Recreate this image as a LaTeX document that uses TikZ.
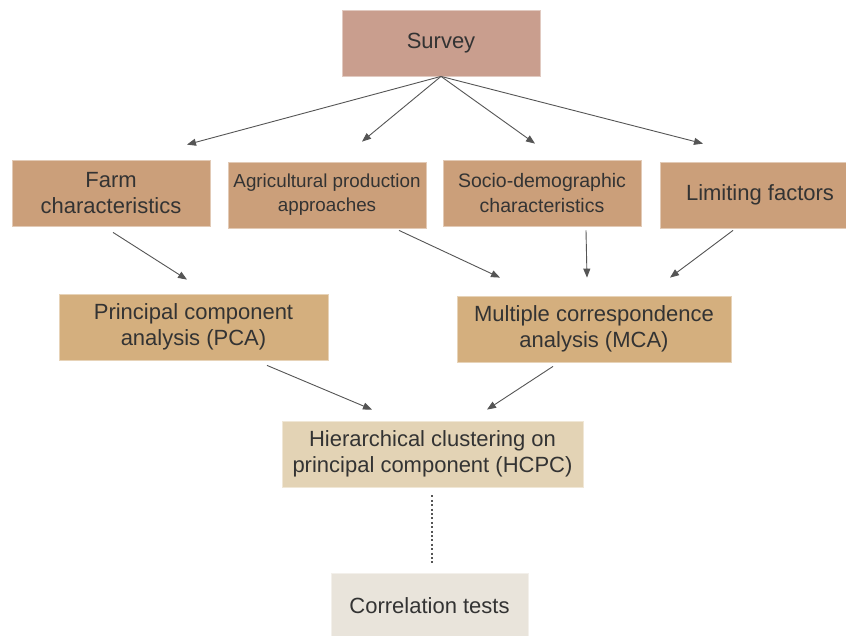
\documentclass[tikz,border=0pt]{standalone}
\usepackage{fontspec}
\setmainfont{Liberation Sans}
\usetikzlibrary{arrows.meta}
\definecolor{cSurvey}{HTML}{C99E8E}
\definecolor{cRow}{HTML}{CB9F7A}
\definecolor{cMid}{HTML}{D4AF7E}
\definecolor{cHcpc}{HTML}{E3D3B5}
\definecolor{cCorr}{HTML}{E9E4DB}
\definecolor{cText}{HTML}{333333}
\definecolor{cLine}{HTML}{555555}
\begin{document}
\begin{tikzpicture}[x=1pt,y=-1pt,
  box/.style={fill=#1, draw=#1!55!white, line width=0.8pt, align=center,
    text=cText, inner sep=0pt, minimum height=66pt,
    font=\fontsize{22}{26}\selectfont},
  arr/.style={draw=cLine, line width=0.9pt, -{Triangle[length=9pt,width=7pt]}},
  dots/.style={draw=cLine, line width=2.2pt, dash pattern=on 2pt off 2.4pt}
]
\clip (0,0) rectangle (846,635);
\fill[white] (0,0) rectangle (846,635);

\node[box=cSurvey, minimum width=198pt] (survey) at (441,43) {Survey};

\node[box=cRow, minimum width=198pt] (farm) at (111,193) {Farm\\characteristics};
\node[box=cRow, minimum width=198pt, font=\fontsize{18.8}{24}\selectfont] (agri) at (327,195) {Agricultural production\\approaches};
\node[box=cRow, minimum width=198pt, font=\fontsize{19.5}{25}\selectfont] (socio) at (542,193) {Socio-demographic\\characteristics};
\node[box=cRow, minimum width=200pt] (limit) at (760,195) {Limiting factors};

\node[box=cMid, minimum width=269pt] (pca) at (193.5,327) {Principal component\\analysis (PCA)};
\node[box=cMid, minimum width=274pt] (mca) at (594,329) {Multiple correspondence\\analysis (MCA)};

\node[box=cHcpc, minimum width=301pt] (hcpc) at (432.5,454) {Hierarchical clustering on\\principal component (HCPC)};

\node[box=cCorr, minimum width=197pt] (corr) at (429.5,606) {Correlation tests};

% Survey to row
\draw[arr] (survey.south) -- ([xshift=76pt,yshift=15pt]farm.north);
\draw[arr] (survey.south) -- ([xshift=35pt,yshift=20pt]agri.north);
\draw[arr] (survey.south) -- ([xshift=-7pt,yshift=16pt]socio.north);
\draw[arr] (survey.south) -- ([xshift=-57pt,yshift=18pt]limit.north);

% row to analyses
\draw[arr] ([xshift=2pt,yshift=-6pt]farm.south) -- ([xshift=-6.5pt,yshift=14pt]pca.north);
\draw[arr] ([xshift=72pt,yshift=-2pt]agri.south) -- ([xshift=-94pt,yshift=18pt]mca.north);
\draw[arr] ([xshift=44pt,yshift=-4pt]socio.south) -- ([xshift=-7pt,yshift=18pt]mca.north);
\draw[arr] ([xshift=-27pt,yshift=-2pt]limit.south) -- ([xshift=76pt,yshift=18pt]mca.north);

% analyses to HCPC
\draw[arr] ([xshift=73.5pt,yshift=-5pt]pca.south) -- ([xshift=-60.5pt,yshift=11pt]hcpc.north);
\draw[arr] ([xshift=-41pt,yshift=-4pt]mca.south) -- ([xshift=54.5pt,yshift=11pt]hcpc.north);

% dotted
\draw[dots] ([xshift=-0.5pt,yshift=-8pt]hcpc.south) -- ([xshift=2.5pt,yshift=8pt]corr.north);
\end{tikzpicture}
\end{document}
